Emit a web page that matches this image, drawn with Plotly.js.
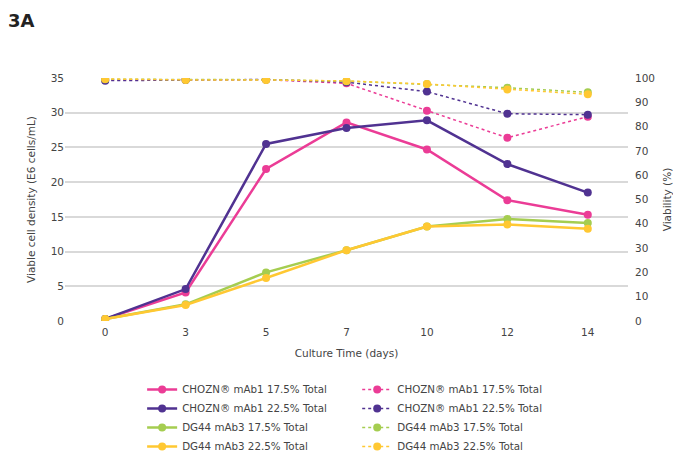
<!DOCTYPE html>
<html>
<head>
<meta charset="utf-8">
<script src="https://cdn.plot.ly/plotly-3.0.1.min.js"></script>
<style>
  html, body { margin: 0; padding: 0; background: #fff; }
  #chart { width: 673px; height: 453px; }
</style>
</head>
<body>
<div id="chart"></div>
<script>
// Culture days (evenly spaced categories)
const days = ["0", "3", "5", "7", "10", "12", "14"];

// Viable cell density (E6 cells/mL)
const vcdChoznA = [0.3, 4.1, 21.9, 28.6, 24.7, 17.4, 15.3];
const vcdChoznB = [0.3, 4.6, 25.5, 27.8, 28.9, 22.6, 18.5];
const vcdDg44A  = [0.3, 2.4, 7.0, 10.2, 13.6, 14.7, 14.1];
const vcdDg44B  = [0.3, 2.3, 6.2, 10.2, 13.6, 13.9, 13.3];

// Viability (%)
const viaChoznA = [99.2, 99.3, 99.3, 97.8, 86.5, 75.4, 84.1];
const viaChoznB = [98.9, 99.2, 99.4, 98.3, 94.4, 85.3, 84.9];
const viaDg44A  = [99.5, 99.3, 99.3, 98.7, 97.5, 96.0, 94.1];
const viaDg44B  = [99.6, 99.2, 99.2, 98.8, 97.5, 95.3, 93.3];

const names = [
  "CHOZN\u00ae mAb1 17.5% Total",
  "CHOZN\u00ae mAb1 22.5% Total",
  "DG44 mAb3 17.5% Total",
  "DG44 mAb3 22.5% Total"
];
const colors = ["#EB3C96", "#503291", "#A5CD50", "#FFC832"];

const vcd = [vcdChoznA, vcdChoznB, vcdDg44A, vcdDg44B];
const via = [viaChoznA, viaChoznB, viaDg44A, viaDg44B];

const traces = [];
vcd.forEach((ys, i) => {
  traces.push({
    x: days, y: ys, name: names[i], type: "scatter", mode: "lines+markers",
    line: { color: colors[i], width: 2.5 },
    marker: { color: colors[i], size: 8 },
    legend: "legend"
  });
});
via.forEach((ys, i) => {
  traces.push({
    x: days, y: ys, name: names[i], type: "scatter", mode: "lines+markers",
    yaxis: "y2",
    line: { color: colors[i], width: 1.5, dash: "dot" },
    marker: { color: colors[i], size: 8 },
    legend: "legend2"
  });
});

const font = { family: "DejaVu Sans, Verdana, sans-serif", size: 10.5, color: "#444" };
const legendFont = { family: "DejaVu Sans, Verdana, sans-serif", size: 10.3, color: "#444" };

const layout = {
  width: 673, height: 453,
  margin: { l: 65, r: 45, t: 78, b: 132, autoexpand: false },
  paper_bgcolor: "#fff", plot_bgcolor: "#fff",
  font: font,
  showlegend: true,
  annotations: [{
    text: "<b>3A</b>", xref: "paper", yref: "paper", x: -0.104, y: 1.235,
    xanchor: "left", yanchor: "middle", showarrow: false,
    font: { family: "DejaVu Sans, Verdana, sans-serif", size: 18, color: "#222" }
  }],
  xaxis: {
    type: "category", range: [-0.5, 6.5],
    showgrid: false, zeroline: false, showline: false, ticks: "",
    tickfont: font, ticklabelstandoff: 3,
    title: { text: "Culture Time (days)", font: font, standoff: 13 }
  },
  yaxis: {
    range: [0, 35], dtick: 5, showgrid: true, gridcolor: "#d9d9d9", gridwidth: 2,
    zeroline: false, showline: false, ticks: "", ticklen: 0,
    tickfont: font,
    title: { text: "Viable cell density (E6 cells/mL)", font: font, standoff: 12 }
  },
  yaxis2: {
    overlaying: "y", side: "right", range: [0, 100], dtick: 10,
    showgrid: false, zeroline: false, showline: false, ticks: "",
    tickfont: font, ticklabelstandoff: 6,
    title: { text: "Viability (%)", font: font, standoff: 9 }
  },
  legend: {
    x: 0.137, y: -0.222, xanchor: "left", yanchor: "top",
    font: legendFont, bgcolor: "rgba(0,0,0,0)", tracegroupgap: 0
  },
  legend2: {
    x: 0.519, y: -0.222, xanchor: "left", yanchor: "top",
    font: legendFont, bgcolor: "rgba(0,0,0,0)", tracegroupgap: 0
  }
};

Plotly.newPlot("chart", traces, layout, { displayModeBar: false, staticPlot: true });
</script>
</body>
</html>
